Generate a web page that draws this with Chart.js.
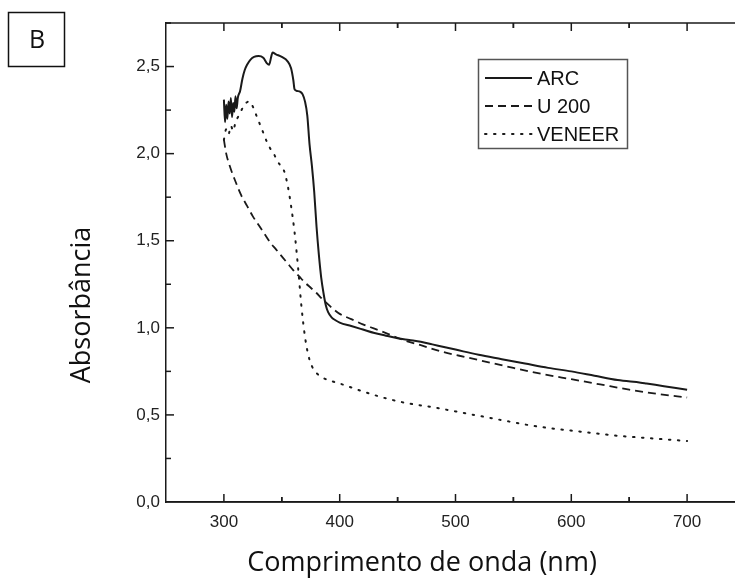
<!DOCTYPE html>
<html><head><meta charset="utf-8">
<script src="https://cdn.jsdelivr.net/npm/chart.js@4/dist/chart.umd.min.js"></script>
<style>html,body{margin:0;padding:0;background:#fff;overflow:hidden;width:735px;height:579px}
#wrap{position:relative;width:760px;height:579px}</style>
</head><body><div id="wrap"><canvas id="c" width="760" height="579"></canvas></div>
<script>
// ---- data ----
const seriesNames = ['ARC', 'U 200', 'VENEER'];
const arcX = [300,301,302,303,304,305,306,307,308,309,310,311,312,314,316,318,320,323,326,330,334,337,339,341,342,345,350,355,358,360,361,363,366,368,370,372,374,376,378,380,382,384,386,388,390,393,396,400,410,420,430,440,450,460,470,480,490,500,520,540,560,580,600,620,640,660,665,680,700];
const arcY = [2.31,2.18,2.28,2.20,2.30,2.23,2.32,2.21,2.29,2.24,2.33,2.26,2.32,2.36,2.43,2.48,2.51,2.54,2.555,2.56,2.55,2.52,2.51,2.56,2.58,2.57,2.555,2.53,2.49,2.42,2.37,2.36,2.355,2.34,2.30,2.22,2.05,1.93,1.78,1.58,1.42,1.29,1.20,1.13,1.09,1.06,1.045,1.03,1.01,0.99,0.97,0.955,0.94,0.93,0.92,0.905,0.89,0.875,0.845,0.82,0.795,0.77,0.75,0.725,0.70,0.685,0.68,0.665,0.645];
const u200X = [300,302,305,310,315,320,325,330,335,340,345,350,355,360,365,370,375,380,385,390,395,400,410,420,430,440,455,470,490,510,530,550,575,600,625,650,675,700];
const u200Y = [2.08,2.0,1.93,1.84,1.76,1.70,1.64,1.59,1.54,1.49,1.45,1.41,1.37,1.33,1.295,1.26,1.23,1.20,1.165,1.135,1.105,1.08,1.05,1.02,0.995,0.97,0.93,0.90,0.86,0.83,0.80,0.77,0.735,0.705,0.675,0.645,0.62,0.60];
const veneerX = [300,302,304,306,308,310,313,316,319,322,325,328,331,334,337,340,343,346,349,352,355,358,361,364,367,370,373,376,380,385,390,395,400,420,440,460,480,500,520,540,560,580,600,620,640,660,680,700];
const veneerY = [2.08,2.14,2.11,2.16,2.13,2.18,2.22,2.26,2.29,2.30,2.27,2.22,2.17,2.12,2.07,2.03,2.00,1.96,1.93,1.90,1.82,1.70,1.55,1.35,1.12,0.95,0.84,0.78,0.74,0.715,0.70,0.69,0.68,0.635,0.595,0.565,0.545,0.52,0.495,0.47,0.445,0.425,0.41,0.395,0.38,0.37,0.36,0.35];
const xMajor = [300, 400, 500, 600, 700];
const yMajor = [0, 0.5, 1.0, 1.5, 2.0, 2.5];
const xTitle = 'Comprimento de onda (nm)';
const yTitle = 'Absorbância';
const panelLabel = 'B';

const INK = '#1a1a1a';
const pts = (xs, ys) => xs.map((x, i) => ({x, y: ys[i]}));

const decor = {
  id: 'decor',
  afterDraw(chart) {
    const {ctx, chartArea: a, scales: {x, y}} = chart;
    ctx.save();
    ctx.strokeStyle = INK; ctx.lineWidth = 1.5; ctx.setLineDash([]);
    const seg = (x1, y1, x2, y2) => { ctx.beginPath(); ctx.moveTo(x1, y1); ctx.lineTo(x2, y2); ctx.stroke(); };
    // frame top/bottom
    seg(a.left, a.top, a.right + 20, a.top);
    seg(a.left, a.bottom, a.right + 20, a.bottom);
    // x ticks (inward, bottom and top)
    const xt = [];
    xMajor.forEach(v => { xt.push([v, 8]); xt.push([v - 50, 5]); xt.push([v + 50, 5]); });
    xt.forEach(([v, L]) => {
      if (v <= x.min || v > x.max) return;
      const p = x.getPixelForValue(v);
      seg(p, a.bottom, p, a.bottom - L);
      seg(p, a.top, p, a.top + L);
    });
    // y ticks (inward, left)
    const yt = [];
    yMajor.forEach(v => { yt.push([v, 8]); yt.push([v + 0.25, 5]); });
    yt.forEach(([v, L]) => {
      if (v <= y.min || v > y.max) return;
      const p = y.getPixelForValue(v);
      seg(a.left, p, a.left + L, p);
    });
    // axis titles
    ctx.fillStyle = '#111';
    ctx.font = '27px "Open Sans"';
    ctx.textAlign = 'center'; ctx.textBaseline = 'middle';
    ctx.fillText(xTitle, 422, 563);
    ctx.save();
    ctx.translate(82, 305); ctx.rotate(-Math.PI / 2);
    ctx.fillText(yTitle, 0, 0);
    ctx.restore();
    // panel label box
    ctx.lineWidth = 1.5; ctx.strokeStyle = '#111';
    ctx.strokeRect(8.5, 12.5, 56, 54);
    ctx.font = '25px "Open Sans"';
    ctx.fillText(panelLabel, 37, 41);
    // legend
    ctx.strokeStyle = '#555'; ctx.lineWidth = 1.5;
    ctx.strokeRect(478.5, 59.5, 149, 89);
    ctx.font = '20px "Liberation Sans"';
    ctx.textAlign = 'left';
    chart.data.datasets.forEach((ds, i) => {
      const ry = 78 + i * 28;
      ctx.strokeStyle = ds.borderColor; ctx.lineWidth = ds.borderWidth;
      ctx.lineCap = ds.borderCapStyle || 'butt';
      ctx.setLineDash(ds.borderDash || []);
      seg(485, ry, 532, ry);
      ctx.setLineDash([]);
      ctx.fillStyle = '#111';
      ctx.fillText(ds.label, 537, ry + 1);
    });
    ctx.restore();
  }
};

new Chart(document.getElementById('c'), {
  type: 'line',
  data: {
    datasets: [
      {label: seriesNames[0], data: pts(arcX, arcY), borderColor: INK, borderWidth: 2, pointRadius: 0, cubicInterpolationMode: 'monotone'},
      {label: seriesNames[1], data: pts(u200X, u200Y), borderColor: INK, borderWidth: 1.8, borderDash: [8, 5], pointRadius: 0, cubicInterpolationMode: 'monotone'},
      {label: seriesNames[2], data: pts(veneerX, veneerY), borderColor: INK, borderWidth: 2, borderDash: [1.5, 7.5], borderCapStyle: 'round', pointRadius: 0, cubicInterpolationMode: 'monotone'}
    ]
  },
  options: {
    responsive: false, animation: false, devicePixelRatio: 1,
    layout: {padding: {left: 0, right: 15, top: 23, bottom: 0}},
    plugins: {legend: {display: false}, tooltip: {enabled: false}},
    scales: {
      x: {
        type: 'linear', min: 250, max: 750,
        grid: {display: false, drawTicks: false},
        border: {display: true, color: INK, width: 1.5},
        ticks: {padding: 10, color: '#222', font: {family: '"Liberation Sans"', size: 17}},
        afterBuildTicks: s => { s.ticks = xMajor.map(v => ({value: v})); },
        afterFit: s => { s.height = 77; }
      },
      y: {
        type: 'linear', min: 0, max: 2.75,
        grid: {display: false, drawTicks: false},
        border: {display: true, color: INK, width: 1.5},
        ticks: {padding: 6, color: '#222', font: {family: '"Liberation Sans"', size: 17},
          callback: v => v.toFixed(1).replace('.', ',')},
        afterBuildTicks: s => { s.ticks = yMajor.map(v => ({value: v})); },
        afterFit: s => { s.width = 166; }
      }
    }
  },
  plugins: [decor]
});
</script>
</body></html>
